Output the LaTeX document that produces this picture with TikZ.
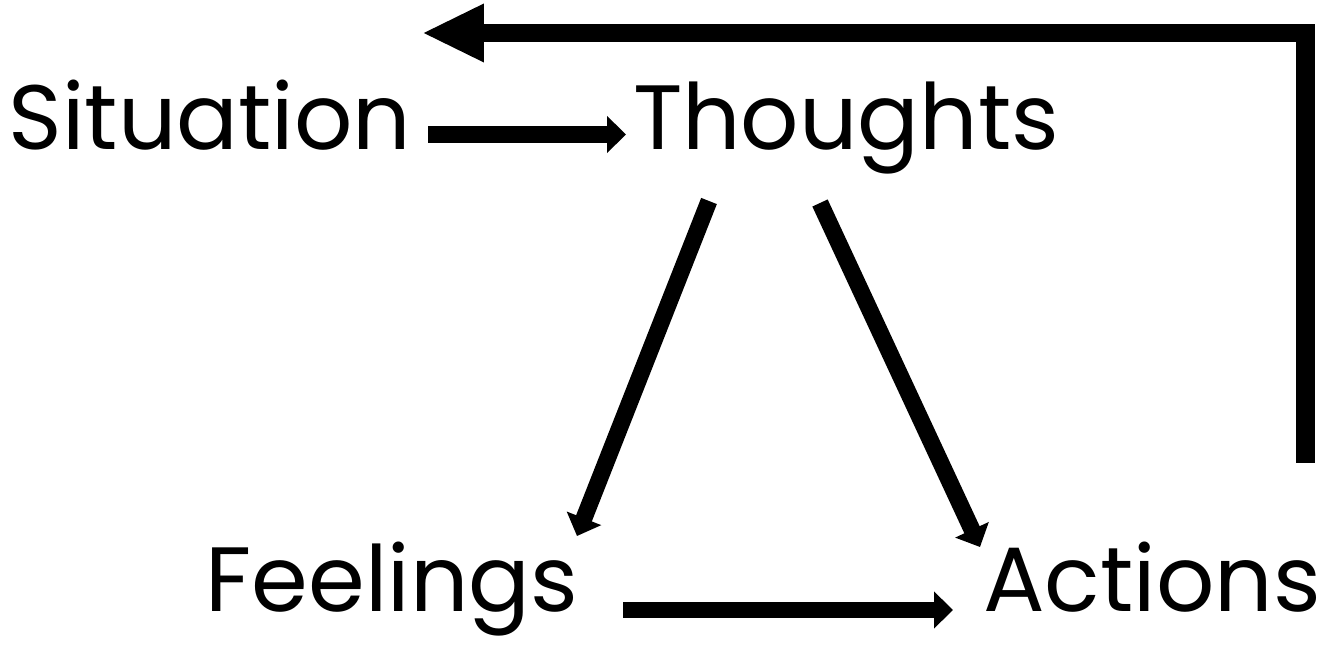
\documentclass[tikz,border=0pt]{standalone}
\usepackage{fontspec}
\setmainfont{Poppins}
\usetikzlibrary{positioning, calc, arrows.meta}

\tikzset{
    label/.style={inner sep=0pt, anchor=base, font=\fontsize{52}{62}\selectfont},
    arr/.style={line width=9.6pt, -{Triangle[length=0.38cm, width=0.72cm]}},
    backarr/.style={line width=10.8pt, -{Triangle[length=1.24cm, width=1.08cm]}}
}

\begin{document}
\begin{tikzpicture}[x=0.02cm, y=0.02cm]
    \useasboundingbox (0,0) rectangle (1331,662);

    % Labels
    \node[label] (sit) at (210,512) {Situation};
    \node[label] (tho) at (846,512) {Thoughts};
    \node[label] (fee) at (392,50) {Feelings};
    \node[label] (act) at (1152,50) {Actions};

    % Arrows
    \draw[arr] ($(sit.base)+(218,15.5)$) -- ($(tho.base)+(-220,15.5)$);
    \draw[arr] ($(tho.base)+(-137,-51)$) -- ($(fee.base)+(185,76)$);
    \draw[arr] ($(tho.base)+(-26,-53)$) -- ($(act.base)+(-172,65)$);
    \draw[arr] ($(fee.base)+(231,2)$) -- ($(act.base)+(-199,2)$);

    % Loop back
    \coordinate (back) at ($(act.base)+(153,149)$);
    \draw[backarr] (back) |- ($(sit.base)+(212,117)$);
\end{tikzpicture}
\end{document}
